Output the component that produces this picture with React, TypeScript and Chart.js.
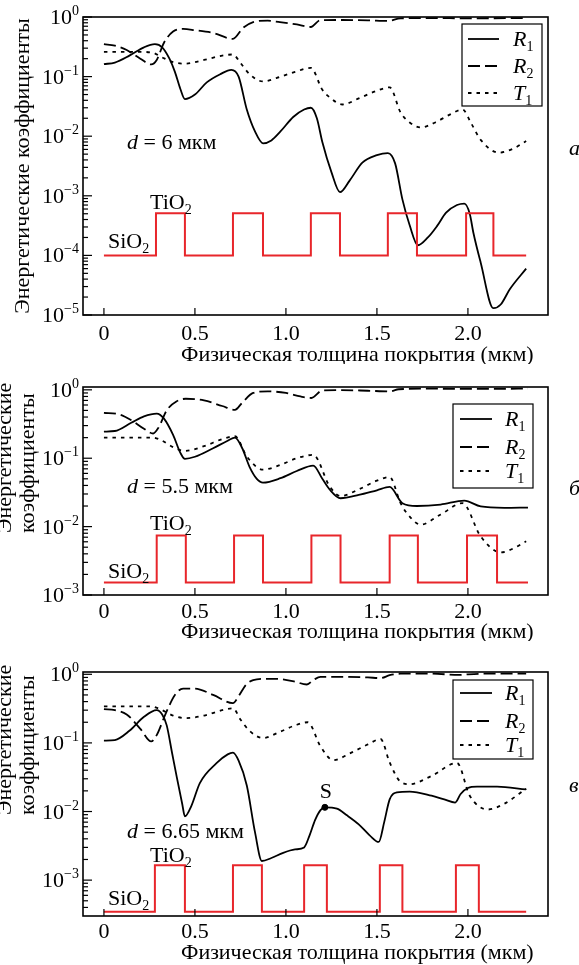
import React, { useEffect, useRef } from "react";
import { Chart, registerables } from "chart.js";
Chart.register(...registerables);

type Pt = [number, number];

// ---------- shared axis data ----------
const X_MIN = -0.115;
const X_MAX = 2.44;
const X_TICKS = [0, 0.5, 1.0, 1.5, 2.0];
const X_TICK_LABELS = ["0", "0.5", "1.0", "1.5", "2.0"];
const X_TITLE = "Физическая толщина покрытия (мкм)";
const Y_TITLE_1 = "Энергетические";
const Y_TITLE_2 = "коэффициенты";
const SERIES_NAMES = ["R", "R", "T"];
const SERIES_SUBS = ["1", "2", "1"];

// ---------- panel а (d = 6 мкм) ----------
const A_DECADES = [-5, -4, -3, -2, -1, 0];
const A_R1: Pt[] = [
  [0, 0.162], [0.06, 0.172], [0.14, 0.225], [0.22, 0.31], [0.28, 0.35], [0.32, 0.31],
  [0.36, 0.2], [0.39, 0.12], [0.42, 0.062], [0.445, 0.042], [0.5, 0.05], [0.565, 0.08],
  [0.64, 0.11], [0.7, 0.13], [0.74, 0.1], [0.785, 0.028], [0.83, 0.012], [0.874, 0.0076],
  [0.92, 0.0085], [0.97, 0.012], [1.04, 0.021], [1.1, 0.028], [1.137, 0.03], [1.17, 0.02],
  [1.2, 0.008], [1.25, 0.0025], [1.297, 0.00115], [1.35, 0.0018], [1.42, 0.0036], [1.5, 0.0048],
  [1.56, 0.0052], [1.6, 0.0035], [1.64, 0.00087], [1.68, 0.00032], [1.725, 0.000148],
  [1.78, 0.0002], [1.83, 0.00031], [1.88, 0.00052], [1.94, 0.0007], [1.98, 0.00074],
  [2.01, 0.0005], [2.03, 0.00024], [2.07, 0.000076], [2.14, 0.000013], [2.18, 0.000015],
  [2.23, 0.000027], [2.32, 0.00006],
];
const A_R2: Pt[] = [
  [0, 0.35], [0.06, 0.33], [0.125, 0.28], [0.2, 0.2], [0.26, 0.16], [0.29, 0.19], [0.33, 0.37],
  [0.38, 0.57], [0.435, 0.63], [0.5, 0.6], [0.6, 0.54], [0.709, 0.43], [0.765, 0.66],
  [0.82, 0.82], [0.9, 0.87], [0.967, 0.82], [1.06, 0.75], [1.137, 0.68], [1.187, 0.88],
  [1.3, 0.89], [1.45, 0.88], [1.56, 0.86], [1.63, 0.95], [1.8, 0.96], [2.0, 0.95], [2.32, 0.96],
];
const A_T1: Pt[] = [
  [0, 0.26], [0.1, 0.26], [0.2, 0.26], [0.27, 0.25], [0.32, 0.21], [0.38, 0.175], [0.445, 0.165],
  [0.55, 0.19], [0.65, 0.225], [0.709, 0.235], [0.75, 0.17], [0.8, 0.11], [0.874, 0.083],
  [0.95, 0.095], [1.05, 0.12], [1.137, 0.14], [1.2, 0.06], [1.24, 0.045], [1.31, 0.034],
  [1.4, 0.043], [1.5, 0.058], [1.57, 0.066], [1.63, 0.025], [1.68, 0.017], [1.74, 0.014],
  [1.82, 0.017], [1.9, 0.023], [1.97, 0.028], [2.02, 0.016], [2.07, 0.0087], [2.17, 0.0053],
  [2.25, 0.0062], [2.32, 0.0083],
];
const A_LAYERS = [0, 0.286, 0.445, 0.709, 0.874, 1.137, 1.297, 1.56, 1.72, 1.99, 2.14, 2.32];
const A_LEVELS = [1e-4, 5.1e-4];

// ---------- panel б (d = 5.5 мкм) ----------
const B_DECADES = [-3, -2, -1, 0];
const B_R1: Pt[] = [
  [0, 0.245], [0.06, 0.25], [0.15, 0.33], [0.22, 0.41], [0.29, 0.45], [0.33, 0.38], [0.38, 0.22],
  [0.42, 0.12], [0.445, 0.098], [0.5, 0.105], [0.6, 0.14], [0.68, 0.18], [0.72, 0.2], [0.76, 0.14],
  [0.8, 0.075], [0.84, 0.05], [0.874, 0.044], [0.97, 0.051], [1.06, 0.065], [1.15, 0.078],
  [1.2, 0.05], [1.24, 0.035], [1.3, 0.026], [1.4, 0.029], [1.5, 0.034], [1.57, 0.038],
  [1.64, 0.022], [1.72, 0.02], [1.85, 0.021], [1.98, 0.024], [2.07, 0.0197], [2.2, 0.0188],
  [2.33, 0.019],
];
const B_R2: Pt[] = [
  [0, 0.46], [0.08, 0.44], [0.15, 0.36], [0.22, 0.27], [0.27, 0.23], [0.3, 0.28], [0.345, 0.5],
  [0.4, 0.68], [0.45, 0.74], [0.55, 0.7], [0.65, 0.58], [0.72, 0.51], [0.76, 0.65], [0.82, 0.9],
  [0.9, 0.95], [1.0, 0.9], [1.08, 0.8], [1.14, 0.76], [1.2, 0.98], [1.3, 0.99], [1.45, 0.97],
  [1.57, 0.95], [1.62, 1.02], [1.8, 1.04], [2.0, 1.03], [2.33, 1.04],
];
const B_T1: Pt[] = [
  [0, 0.2], [0.1, 0.2], [0.2, 0.2], [0.27, 0.2], [0.32, 0.18], [0.38, 0.145], [0.445, 0.128],
  [0.55, 0.15], [0.65, 0.19], [0.72, 0.21], [0.785, 0.106], [0.874, 0.068], [0.97, 0.08],
  [1.06, 0.1], [1.15, 0.112], [1.24, 0.039], [1.3, 0.028], [1.4, 0.035], [1.5, 0.047],
  [1.57, 0.053], [1.63, 0.022], [1.68, 0.014], [1.74, 0.0107], [1.85, 0.015], [1.97, 0.022],
  [2.07, 0.0072], [2.18, 0.0042], [2.25, 0.0048], [2.32, 0.0061],
];
const B_LAYERS = [0, 0.29, 0.45, 0.715, 0.874, 1.14, 1.3, 1.57, 1.725, 1.995, 2.16, 2.33];
const B_LEVELS = [1.52e-3, 7.4e-3];

// ---------- panel в (d = 6.65 мкм) ----------
const C_DECADES = [-3, -2, -1, 0];
const C_R1: Pt[] = [
  [0, 0.108], [0.06, 0.11], [0.14, 0.15], [0.22, 0.24], [0.29, 0.3], [0.32, 0.26], [0.345, 0.18],
  [0.375, 0.07], [0.4, 0.032], [0.43, 0.013], [0.445, 0.0085], [0.48, 0.012], [0.527, 0.026],
  [0.62, 0.051], [0.68, 0.068], [0.709, 0.072], [0.74, 0.055], [0.785, 0.024], [0.83, 0.005],
  [0.868, 0.0019], [0.92, 0.0021], [0.985, 0.0025], [1.05, 0.0028], [1.1, 0.003], [1.13, 0.0045],
  [1.16, 0.0075], [1.19, 0.0105], [1.214, 0.0115], [1.28, 0.011], [1.335, 0.0088], [1.4, 0.0065],
  [1.46, 0.0045], [1.51, 0.0036], [1.54, 0.007], [1.57, 0.015], [1.61, 0.019], [1.68, 0.0195],
  [1.8, 0.017], [1.87, 0.015], [1.93, 0.0135], [1.96, 0.018], [2.0, 0.022], [2.05, 0.023],
  [2.16, 0.023], [2.32, 0.021],
];
const C_R2: Pt[] = [
  [0, 0.31], [0.06, 0.3], [0.125, 0.26], [0.2, 0.16], [0.26, 0.105], [0.29, 0.13], [0.34, 0.27],
  [0.39, 0.5], [0.435, 0.62], [0.5, 0.62], [0.6, 0.5], [0.709, 0.38], [0.74, 0.48], [0.78, 0.7],
  [0.82, 0.82], [0.9, 0.86], [0.97, 0.85], [1.05, 0.78], [1.115, 0.71], [1.15, 0.82], [1.19, 0.92],
  [1.3, 0.92], [1.45, 0.9], [1.52, 0.88], [1.57, 0.97], [1.63, 1.02], [1.8, 1.02], [1.95, 0.98],
  [2.0, 1.0], [2.1, 1.02], [2.32, 1.02],
];
const C_T1: Pt[] = [
  [0, 0.34], [0.1, 0.34], [0.2, 0.34], [0.26, 0.34], [0.32, 0.3], [0.38, 0.25], [0.45, 0.23],
  [0.55, 0.25], [0.65, 0.3], [0.709, 0.32], [0.75, 0.22], [0.8, 0.15], [0.874, 0.118],
  [0.967, 0.145], [1.05, 0.18], [1.12, 0.2], [1.19, 0.089], [1.26, 0.056], [1.35, 0.07],
  [1.45, 0.095], [1.52, 0.114], [1.57, 0.052], [1.63, 0.027], [1.68, 0.025], [1.8, 0.033],
  [1.94, 0.051], [2.01, 0.017], [2.11, 0.0107], [2.2, 0.013], [2.32, 0.0215],
];
const C_S: Pt[] = [[1.214, 0.0115]];
const C_LAYERS = [0, 0.28, 0.445, 0.709, 0.868, 1.1, 1.225, 1.516, 1.64, 1.934, 2.06, 2.32];
const C_LEVELS = [3.45e-4, 1.65e-3];

// ---------- drawing helpers ----------
const SERIF = '"Liberation Serif", "Times New Roman", serif';
const font = (size: number, italic = false) => `${italic ? "italic " : ""}${size}px ${SERIF}`;
type Part = { t: string; f: string; dy?: number };

function drawParts(ctx: CanvasRenderingContext2D, parts: Part[], x: number, y: number, align: "left" | "right" | "center") {
  let w = 0;
  for (const p of parts) { ctx.font = p.f; w += ctx.measureText(p.t).width; }
  let cx = align === "left" ? x : align === "right" ? x - w : x - w / 2;
  ctx.textAlign = "left";
  ctx.textBaseline = "alphabetic";
  for (const p of parts) {
    ctx.font = p.f;
    ctx.fillText(p.t, cx, y + (p.dy || 0));
    cx += ctx.measureText(p.t).width;
  }
}

function line(ctx: CanvasRenderingContext2D, x1: number, y1: number, x2: number, y2: number) {
  ctx.beginPath(); ctx.moveTo(x1, y1); ctx.lineTo(x2, y2); ctx.stroke();
}

function stepPoints(bounds: number[], levels: number[]) {
  const pts: { x: number; y: number }[] = [];
  for (let i = 0; i < bounds.length - 1; i++) {
    const v = levels[i % 2];
    pts.push({ x: bounds[i], y: v }, { x: bounds[i + 1], y: v });
  }
  return pts;
}

const toXY = (a: Pt[]) => a.map(([x, y]) => ({ x, y }));

interface PanelCfg {
  top: number; height: number; plotTop: number; plotBottom: number;
  yMin: number; yMax: number; decades: number[];
  r1: Pt[]; r2: Pt[]; t1: Pt[]; layers: number[]; levels: number[]; s?: Pt[];
  dText: string; dBase: number; tiBase: number; siBase: number;
  legendBox: [number, number, number, number]; legendRows: number[]; legendSampleX: [number, number]; legendTextX: number;
  letter: string; letterBase: number;
  twoLineTitle: boolean; titleBottom: number;
  tickLabelY: number; xTitleY: number;
}

const PANELS: PanelCfg[] = [
  {
    top: 0, height: 364, plotTop: 17, plotBottom: 315, yMin: 1e-5, yMax: 1.0, decades: A_DECADES,
    r1: A_R1, r2: A_R2, t1: A_T1, layers: A_LAYERS, levels: A_LEVELS,
    dText: " = 6 мкм", dBase: 149, tiBase: 209, siBase: 248,
    legendBox: [462, 24, 542, 106], legendRows: [39, 66, 93], legendSampleX: [468, 499], legendTextX: 513,
    letter: "а", letterBase: 155, twoLineTitle: false, titleBottom: 0, tickLabelY: 333, xTitleY: 355,
  },
  {
    top: 364, height: 277, plotTop: 387, plotBottom: 595, yMin: 1e-3, yMax: 1.1, decades: B_DECADES,
    r1: B_R1, r2: B_R2, t1: B_T1, layers: B_LAYERS, levels: B_LEVELS,
    dText: " = 5.5 мкм", dBase: 493, tiBase: 530, siBase: 578,
    legendBox: [453, 404, 533, 488], legendRows: [419, 447, 471], legendSampleX: [460, 492], legendTextX: 505,
    letter: "б", letterBase: 495, twoLineTitle: true, titleBottom: 533, tickLabelY: 611, xTitleY: 632,
  },
  {
    top: 641, height: 324, plotTop: 672, plotBottom: 916, yMin: 3.06e-4, yMax: 1.08, decades: C_DECADES,
    r1: C_R1, r2: C_R2, t1: C_T1, layers: C_LAYERS, levels: C_LEVELS, s: C_S,
    dText: " = 6.65 мкм", dBase: 838, tiBase: 862, siBase: 905,
    legendBox: [453, 680, 533, 759], legendRows: [693, 721, 745], legendSampleX: [460, 492], legendTextX: 505,
    letter: "в", letterBase: 792, twoLineTitle: true, titleBottom: 815, tickLabelY: 931, xTitleY: 953,
  },
];

const DASHES: number[][] = [[], [12, 5], [3.5, 5]];
const RED = "#e8262b";

function Panel({ cfg }: { cfg: PanelCfg }) {
  const ref = useRef<HTMLCanvasElement>(null);
  useEffect(() => {
    const canvas = ref.current!;
    const H = cfg.height;
    const off = cfg.top;
    const plotTop = cfg.plotTop - off;
    const plotBottom = cfg.plotBottom - off;

    const overlay = {
      id: "overlay",
      afterDraw(chart: any) {
        const ctx: CanvasRenderingContext2D = chart.ctx;
        const ca = chart.chartArea;
        const xs = chart.scales.x;
        const ys = chart.scales.y;
        ctx.save();
        ctx.fillStyle = "#000";
        ctx.strokeStyle = "#000";
        // frame
        ctx.lineWidth = 1.6;
        ctx.setLineDash([]);
        ctx.strokeRect(ca.left, ca.top, ca.right - ca.left, ca.bottom - ca.top);
        // x ticks (inward) + labels
        ctx.lineWidth = 1.2;
        X_TICKS.forEach((v, i) => {
          const px = xs.getPixelForValue(v);
          line(ctx, px, ca.bottom, px, ca.bottom - 7);
          drawParts(ctx, [{ t: X_TICK_LABELS[i], f: font(22) }], px, cfg.tickLabelY - off + 7, "center");
        });
        // y ticks
        const dmin = Math.floor(Math.log10(cfg.yMin));
        const dmax = Math.ceil(Math.log10(cfg.yMax));
        for (let d = dmin; d <= dmax; d++) {
          for (let m = 1; m <= 9; m++) {
            const v = m * Math.pow(10, d);
            if (v < cfg.yMin * 0.999 || v > cfg.yMax * 1.001) continue;
            const py = ys.getPixelForValue(v);
            line(ctx, ca.left, py, ca.left + (m === 1 ? 9 : 5), py);
          }
        }
        cfg.decades.forEach((d) => {
          const py = ys.getPixelForValue(Math.pow(10, d));
          const exp = d === 0 ? "0" : "\u2212" + String(-d);
          drawParts(ctx, [{ t: "10", f: font(22) }, { t: exp, f: font(14), dy: -9 }], 79, py + 7, "right");
        });
        // x title
        drawParts(ctx, [{ t: X_TITLE, f: font(22) }], 181, cfg.xTitleY - off + 6, "left");
        // y title
        ctx.font = font(22);
        ctx.textBaseline = "middle";
        if (!cfg.twoLineTitle) {
          ctx.save();
          ctx.translate(23, (ca.top + ca.bottom) / 2);
          ctx.rotate(-Math.PI / 2);
          ctx.textAlign = "center";
          ctx.fillText(Y_TITLE_1 + " " + Y_TITLE_2, 0, 0);
          ctx.restore();
        } else {
          [[5, Y_TITLE_1], [28, Y_TITLE_2]].forEach(([x, t]) => {
            ctx.save();
            ctx.translate(x as number, cfg.titleBottom - off);
            ctx.rotate(-Math.PI / 2);
            ctx.textAlign = "left";
            ctx.fillText(t as string, 0, 0);
            ctx.restore();
          });
        }
        // annotations
        drawParts(ctx, [{ t: "d", f: font(22, true) }, { t: cfg.dText, f: font(22) }], 127, cfg.dBase - off, "left");
        drawParts(ctx, [{ t: "TiO", f: font(22) }, { t: "2", f: font(14), dy: 5 }], 150, cfg.tiBase - off, "left");
        drawParts(ctx, [{ t: "SiO", f: font(22) }, { t: "2", f: font(14), dy: 5 }], 108, cfg.siBase - off, "left");
        if (cfg.s) {
          const sx = xs.getPixelForValue(cfg.s[0][0]);
          drawParts(ctx, [{ t: "S", f: font(22) }], sx + 1, 798 - off, "center");
        }
        // panel letter
        drawParts(ctx, [{ t: cfg.letter, f: font(22, true) }], 569, cfg.letterBase - off, "left");
        // legend
        const [bx1, by1, bx2, by2] = cfg.legendBox;
        ctx.fillStyle = "#fff";
        ctx.fillRect(bx1, by1 - off, bx2 - bx1, by2 - by1);
        ctx.fillStyle = "#000";
        ctx.lineWidth = 1.2;
        ctx.strokeRect(bx1, by1 - off, bx2 - bx1, by2 - by1);
        cfg.legendRows.forEach((ry, i) => {
          ctx.lineWidth = 1.8;
          ctx.setLineDash(DASHES[i]);
          line(ctx, cfg.legendSampleX[0], ry - off, cfg.legendSampleX[1], ry - off);
          ctx.setLineDash([]);
          drawParts(ctx, [{ t: SERIES_NAMES[i], f: font(22, true) }, { t: SERIES_SUBS[i], f: font(14), dy: 5 }], cfg.legendTextX, ry - off + 7, "left");
        });
        ctx.restore();
      },
    };

    const curve = (data: Pt[], i: number) => ({
      label: SERIES_NAMES[i] + SERIES_SUBS[i],
      data: toXY(data),
      borderColor: "#000",
      borderWidth: 1.8,
      borderDash: DASHES[i],
      pointRadius: 0,
      cubicInterpolationMode: "monotone" as const,
      fill: false,
    });

    const datasets: any[] = [
      {
        label: "profile",
        data: stepPoints(cfg.layers, cfg.levels),
        borderColor: RED,
        borderWidth: 2,
        pointRadius: 0,
        tension: 0,
        fill: false,
      },
      curve(cfg.r1, 0),
      curve(cfg.r2, 1),
      curve(cfg.t1, 2),
    ];
    if (cfg.s) {
      datasets.push({
        label: "S",
        data: toXY(cfg.s),
        showLine: false,
        pointRadius: 3,
        pointBackgroundColor: "#000",
        pointBorderColor: "#000",
      });
    }

    const chart = new Chart(canvas, {
      type: "line",
      data: { datasets },
      options: {
        responsive: false,
        animation: false,
        devicePixelRatio: 1,
        events: [],
        layout: { padding: { top: plotTop, right: 579 - 548, left: 0, bottom: 0 } },
        plugins: { legend: { display: false }, tooltip: { enabled: false } },
        scales: {
          x: {
            type: "linear", min: X_MIN, max: X_MAX,
            grid: { display: false }, border: { display: false }, ticks: { display: false },
            afterFit: (s: any) => { s.height = H - plotBottom; },
          },
          y: {
            type: "logarithmic", min: cfg.yMin, max: cfg.yMax,
            grid: { display: false }, border: { display: false }, ticks: { display: false },
            afterFit: (s: any) => { s.width = 83; },
          },
        },
      } as any,
      plugins: [overlay],
    });
    return () => chart.destroy();
  }, [cfg]);
  return (
    <canvas
      ref={ref}
      width={579}
      height={cfg.height}
      style={{ position: "absolute", left: 0, top: cfg.top, display: "block" }}
    />
  );
}

export default function App() {
  return (
    <div style={{ position: "absolute", left: 0, top: 0, width: 579, height: 965, background: "#fff", overflow: "hidden" }}>
      {PANELS.map((p, i) => <Panel key={i} cfg={p} />)}
    </div>
  );
}
